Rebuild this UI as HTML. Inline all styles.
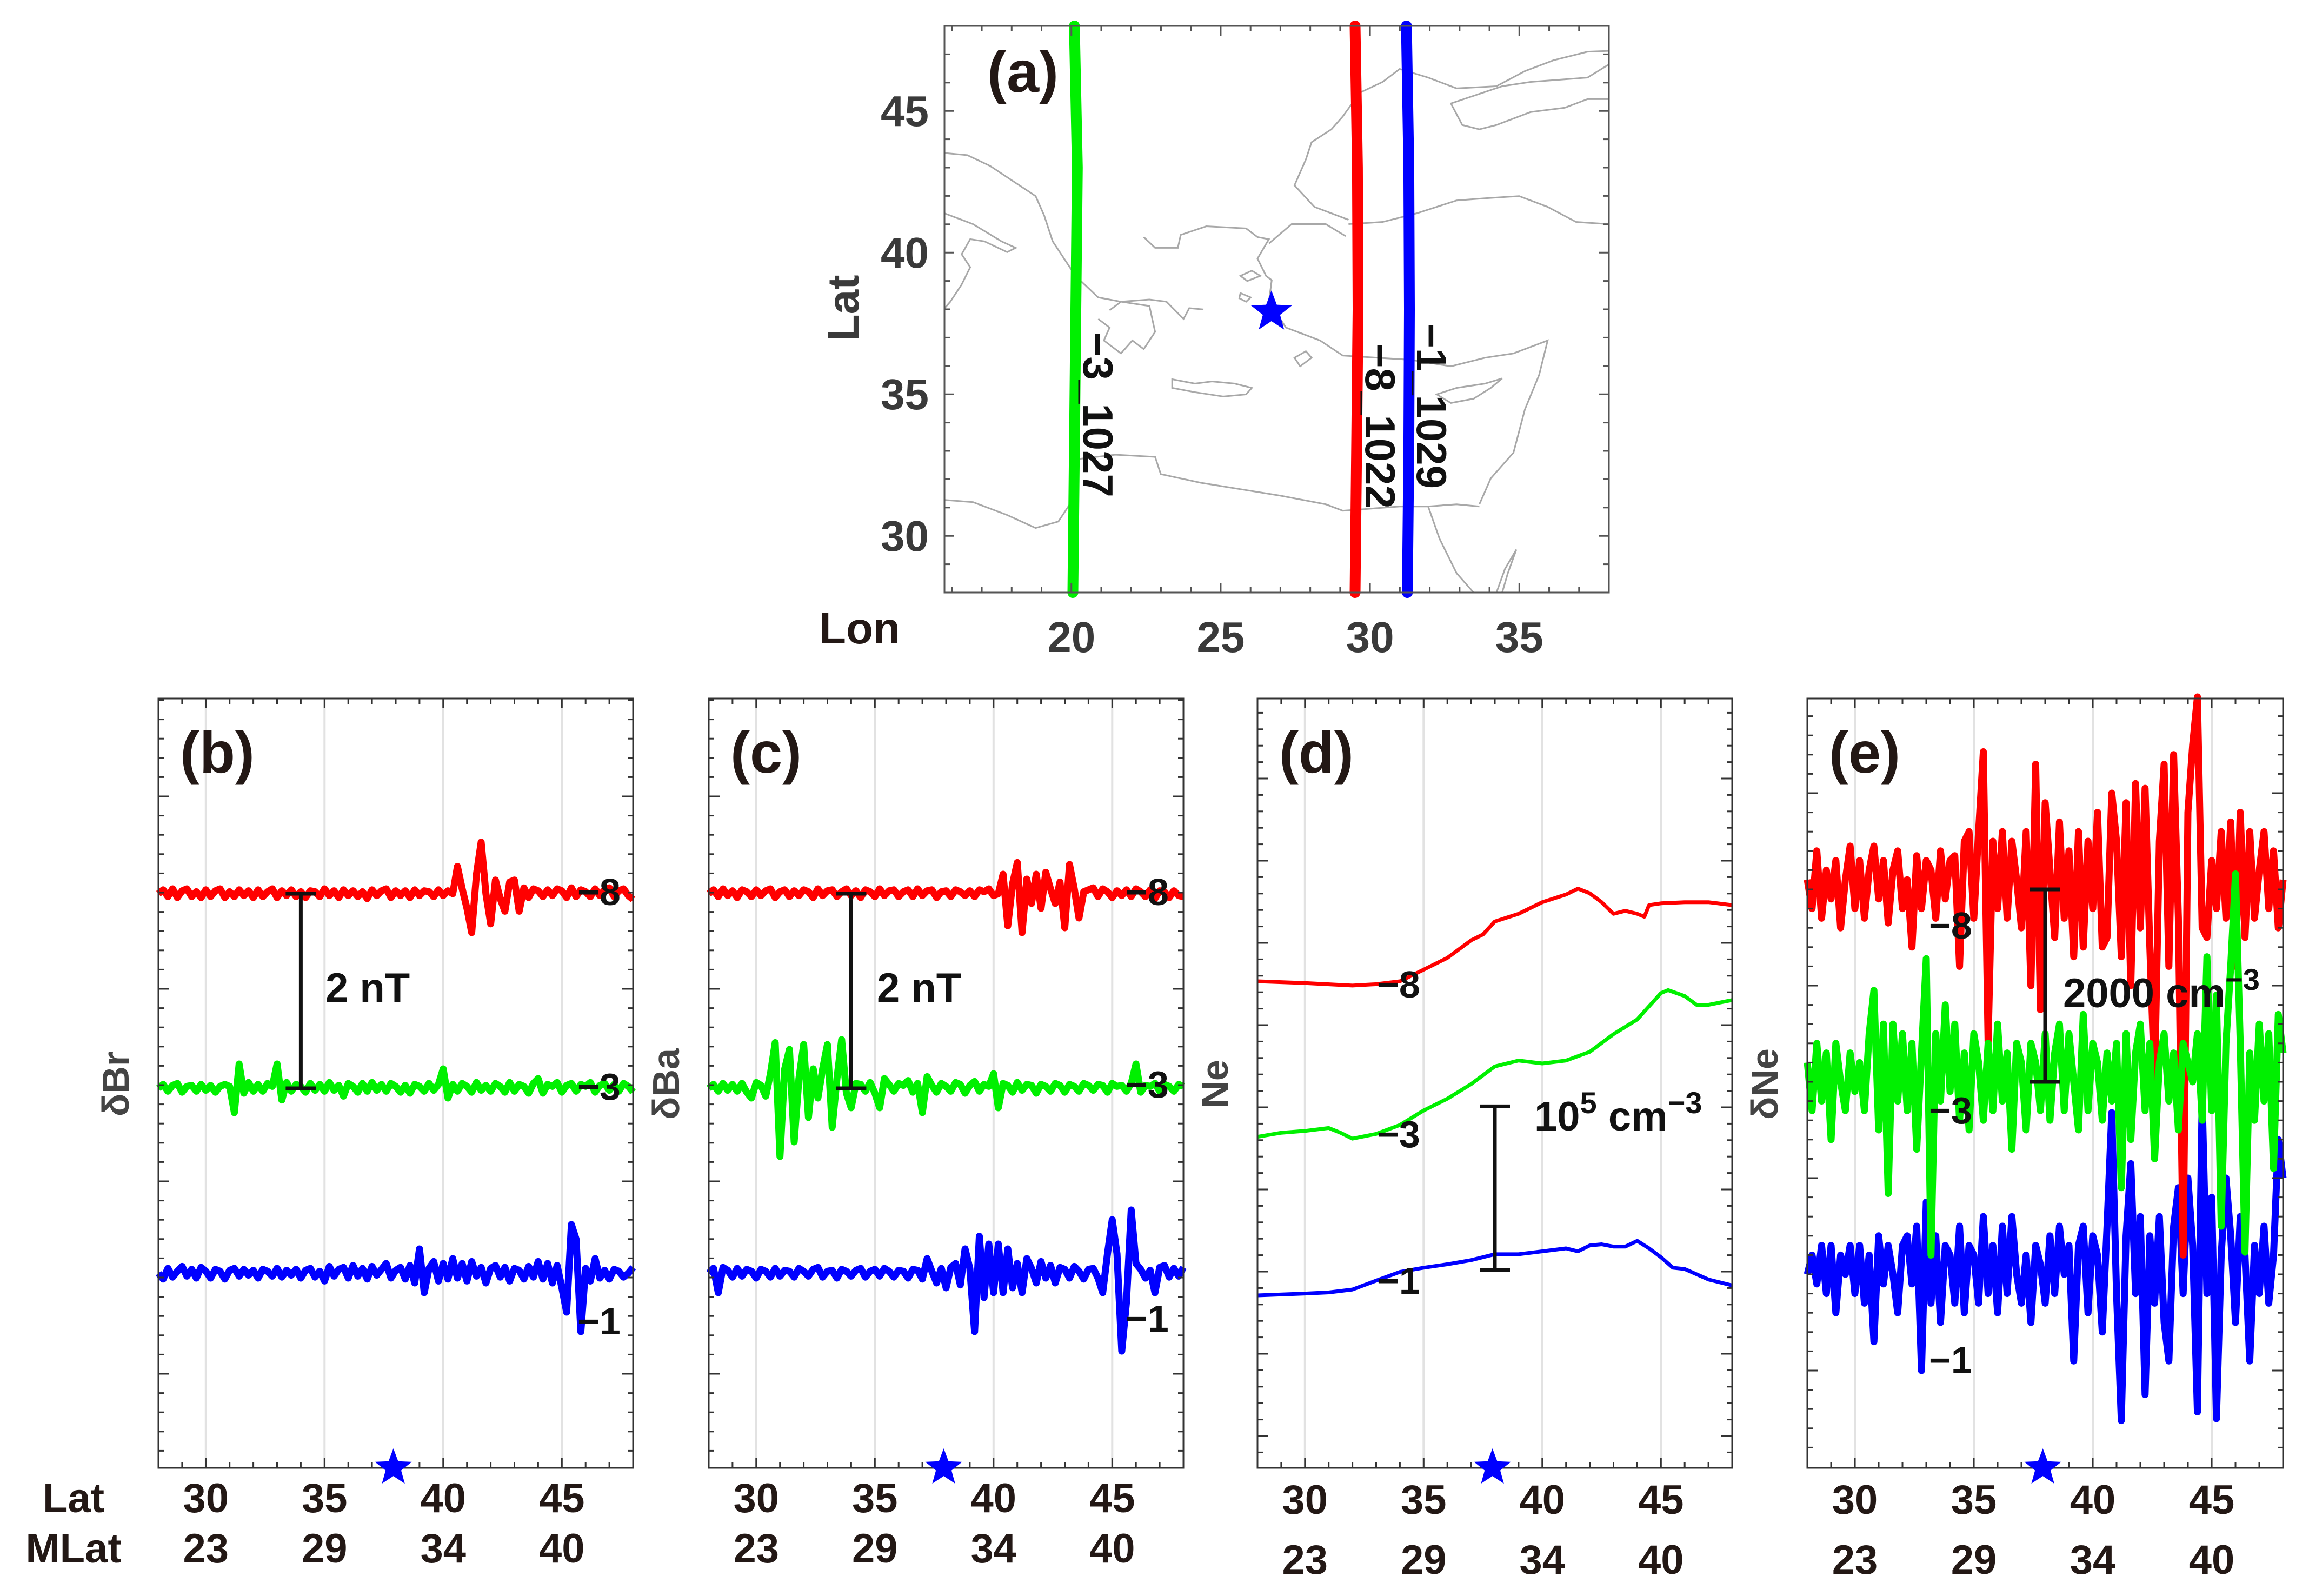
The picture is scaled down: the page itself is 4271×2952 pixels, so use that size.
<!DOCTYPE html>
<html><head><meta charset="utf-8"><title>Swarm tracks and perturbations</title>
<style>
html,body{margin:0;padding:0;background:#fff;}
svg{display:block;font-family:"Liberation Sans",Arial,sans-serif;font-weight:bold;}
</style></head>
<body>
<svg id="fig" width="4271" height="2952" viewBox="0 0 4271 2952" xmlns="http://www.w3.org/2000/svg">
<rect x="0" y="0" width="4271" height="2952" fill="#fff"/>
<g id="map">
 <g transform="translate(1400,0) scale(1.0523,0.7972)" fill="none" stroke="#a8a8a8" stroke-width="3" vector-effect="non-scaling-stroke">
  <polyline vector-effect="non-scaling-stroke" points="330,355 370,360 410,385 450,420 490,455 505,500 520,560 560,640 600,690 640,700 690,695 720,700 750,740 760,715 785,718"/>
  <polyline vector-effect="non-scaling-stroke" points="330,495 380,520 430,560 455,575 440,585 400,560 375,555 360,590 375,620 360,660 340,700 330,715"/>
  <polyline vector-effect="non-scaling-stroke" points="620,720 640,700 690,710 700,770 680,810 660,790 640,820 610,790 620,760 600,740"/>
  <polyline vector-effect="non-scaling-stroke" points="680,550 700,575 740,575 745,545 790,525 860,530 880,550 900,555 880,600 895,640 905,650 900,700 930,760 960,775 990,790 1030,825 1090,830 1150,835 1220,850 1280,830 1330,820 1390,790 1375,870 1350,950 1330,1050 1290,1110 1270,1170"/>
  <polyline vector-effect="non-scaling-stroke" points="900,565 940,520 1000,520 1035,548"/>
  <polyline vector-effect="non-scaling-stroke" points="1040,520 1100,515 1160,495 1230,465 1280,460 1340,455 1390,480 1440,515 1497,520"/>
  <polyline vector-effect="non-scaling-stroke" points="1040,510 980,480 945,430 965,370 975,330 1010,300 1030,270 1060,215 1100,190 1130,160 1180,180 1230,205 1300,200 1350,165 1400,140 1460,120 1497,118"/>
  <polyline vector-effect="non-scaling-stroke" points="1497,150 1460,180 1360,190 1310,200 1220,240 1240,290 1270,300 1300,290 1360,260 1420,250 1460,230 1497,230"/>
  <polygon vector-effect="non-scaling-stroke" points="730,880 770,890 800,885 840,890 870,900 860,915 820,920 770,910 730,900"/>
  <polygon vector-effect="non-scaling-stroke" points="1195,915 1230,900 1280,890 1310,878 1290,900 1260,925 1220,935"/>
  <polygon vector-effect="non-scaling-stroke" points="850,640 870,628 885,640 862,652"/>
  <polygon vector-effect="non-scaling-stroke" points="850,680 868,690 860,700 848,692"/>
  <polygon vector-effect="non-scaling-stroke" points="945,830 965,815 975,830 955,850"/>
  <polyline vector-effect="non-scaling-stroke" points="330,1160 380,1165 440,1195 490,1225 530,1210 560,1150 565,1065 630,1055 700,1060 710,1100 780,1120 850,1135 920,1150 1000,1170 1030,1185 1080,1180 1130,1175 1180,1175 1230,1170 1270,1175"/>
  <polyline vector-effect="non-scaling-stroke" points="1180,1175 1200,1250 1230,1330 1260,1375"/>
  <polyline vector-effect="non-scaling-stroke" points="1300,1375 1315,1320 1335,1275 1320,1330 1310,1375"/>
 </g>
</g>
<g id="panels"></g>
</svg>
<script>
// ---------- Map data (panel a) ----------
const trackLats = [28, 33, 38, 43, 48];
const trackGreenLon = [20.05, 20.1, 20.15, 20.2, 20.1];
const trackRedLon = [29.5, 29.55, 29.6, 29.58, 29.5];
const trackBlueLon = [31.25, 31.3, 31.32, 31.3, 31.22];
const trackNames = ['-3_1027', '-8_1022', '-1_1029'];
const trackLabelStartLat = [37.2, 36.8, 37.5];
const epicenterLon = 26.7, epicenterLat = 37.9;
const mapLatTicks = [30, 35, 40, 45];
const mapLonTicks = [20, 25, 30, 35];

// ---------- Bottom panels data ----------
const latTicks = [30, 35, 40, 45];
const mlatTicks = [23, 29, 34, 40];
const sampleStartLat = 28, sampleStepLat = 0.2;
const seriesOffsetsB = [5.9, 3.9, 2.0];
const seriesOffsetsE = [6.0, 4.0, 2.0];
const orbitLabels = ['\u22128', '\u22123', '\u22121'];

const dBrRed = [0,0.04,-0.03,0.05,-0.04,0.03,0.05,-0.03,0.02,-0.04,0.04,
 -0.03,0.03,0.05,-0.04,0.02,-0.03,0.04,-0.02,0.03,-0.04,
 0.04,-0.03,0.02,0.05,-0.04,0.03,-0.02,0.04,-0.03,0.02,
 -0.04,0.03,0.02,-0.03,0.05,-0.02,0.03,-0.04,0.04,-0.02,
 0.03,-0.03,0.02,-0.05,0.04,-0.02,0.03,0.05,-0.04,0.03,
 -0.02,0.03,-0.04,0.04,-0.02,0.03,0.02,-0.03,0.04,-0.02,
 0.03,0.0,0.28,0.05,-0.15,-0.4,0.2,0.53,0.0,-0.31,
 0.14,-0.05,-0.18,0.12,0.14,-0.18,0.06,-0.04,0.05,0.03,
 -0.03,0.04,-0.02,0.05,0.03,-0.04,0.06,-0.03,0.04,0.02,
 -0.03,0.05,-0.02,0.04,0.06,-0.03,0.03,0.05,-0.02,-0.06];
const dBrGreen = [0,0.04,-0.03,0.03,0.05,-0.04,0.02,0.03,-0.03,0.04,-0.02,
 0.03,-0.04,0.02,0.04,0.02,-0.25,0.25,-0.05,0.06,-0.03,
 0.04,-0.03,0.05,0.02,0.25,-0.12,0.06,-0.03,0.04,0.02,
 -0.04,0.05,-0.02,0.04,-0.03,0.06,-0.02,0.03,-0.08,0.05,
 0.02,-0.04,0.05,-0.03,0.06,-0.02,0.04,-0.03,0.05,0.02,
 -0.04,0.03,-0.05,0.04,0.02,-0.03,0.05,-0.02,0.04,0.2,
 -0.1,0.04,-0.03,0.05,0.02,-0.04,0.06,-0.02,0.03,-0.03,
 0.05,0.02,-0.04,0.06,-0.03,0.04,0.02,-0.05,0.05,0.1,
 -0.05,0.04,0.02,0.06,-0.04,0.03,0.05,-0.03,0.04,0.02,
 0.06,-0.04,0.03,0.05,-0.02,0.04,-0.03,0.05,0.02,-0.04];
const dBrBlue = [0,-0.06,0.05,-0.04,0.02,0.07,-0.03,0.04,-0.05,0.06,0.02,
 -0.05,0.04,0.02,-0.06,0.03,0.05,-0.03,0.04,-0.02,0.03,
 -0.05,0.04,0.02,-0.03,0.05,-0.04,0.03,-0.02,0.04,-0.05,
 0.03,0.05,-0.04,0.02,-0.08,0.07,-0.03,0.04,0.06,-0.05,
 0.08,-0.03,0.05,-0.06,0.07,-0.02,0.04,0.1,-0.05,0.03,
 0.06,-0.06,0.08,-0.1,0.25,-0.2,0.05,0.12,-0.08,0.1,
 -0.06,0.15,-0.05,0.1,-0.08,0.12,-0.03,0.06,-0.1,0.05,
 0.08,-0.04,0.06,-0.08,0.05,0.03,-0.06,0.07,-0.04,0.12,
 -0.06,0.1,-0.1,0.08,-0.15,-0.4,0.5,0.35,-0.6,0.05,
 -0.08,0.15,-0.05,0.03,-0.06,0.04,0.02,-0.04,0.0,0.06];

const dBaRed = [0,0.04,-0.03,0.05,-0.02,0.03,-0.04,0.04,0.02,-0.03,0.04,
 -0.02,0.03,0.05,-0.04,0.02,0.04,-0.03,0.03,-0.02,0.04,
 0.02,-0.04,0.05,-0.02,0.03,0.04,-0.03,0.02,0.05,-0.02,
 0.03,-0.04,0.04,0.02,-0.03,0.05,-0.02,0.03,0.04,-0.03,
 0.02,0.04,-0.03,0.05,-0.02,0.03,0.04,-0.04,0.02,0.03,
 -0.03,0.04,0.02,-0.02,0.03,-0.03,0.04,0.02,0.05,-0.02,
 0.0,0.2,-0.33,0.1,0.32,-0.4,0.15,-0.1,0.2,-0.15,
 0.22,0.05,-0.1,0.12,-0.35,0.3,0.05,-0.25,0.02,0.04,
 0.06,-0.03,0.05,0.02,-0.04,0.03,-0.02,0.04,-0.03,0.05,
 0.02,-0.03,0.04,-0.05,0.03,0.02,-0.04,0.03,-0.02,-0.03];
const dBaGreen = [0,0.04,-0.03,0.05,-0.02,0.04,-0.03,0.05,-0.04,-0.1,0.06,
 0.03,-0.08,0.15,0.47,-0.7,0.2,0.4,-0.55,0.1,0.45,
 -0.3,0.2,-0.1,0.2,0.45,-0.4,0.1,0.5,-0.05,-0.2,
 0.05,0.04,-0.03,0.06,-0.05,-0.2,0.1,0.04,-0.03,0.05,
 0.03,0.08,-0.04,0.05,-0.25,0.12,0.03,-0.04,0.05,0.02,
 -0.03,0.06,0.04,-0.05,0.03,0.07,-0.03,0.04,0.02,0.15,
 -0.2,0.05,0.03,-0.04,0.06,-0.02,0.04,0.03,-0.05,0.04,
 0.02,-0.03,0.05,0.03,-0.04,0.04,0.02,-0.03,0.05,0.03,
 -0.02,0.04,0.03,-0.04,0.05,0.02,0.03,-0.03,0.05,0.25,
 -0.04,0.03,0.02,0.05,-0.03,0.04,0.02,-0.03,0.04,0.02];
const dBaBlue = [0,0.05,-0.2,0.06,0.03,-0.04,0.05,-0.03,0.04,0.02,-0.05,
 0.04,0.02,-0.04,0.05,-0.03,0.03,0.02,-0.04,0.05,0.02,
 -0.03,0.04,0.06,-0.04,0.02,0.03,-0.05,0.04,0.02,-0.03,
 0.03,0.05,-0.04,0.02,0.04,-0.03,0.05,0.02,-0.04,0.03,
 0.02,-0.05,0.04,0.03,-0.06,0.15,0.02,-0.1,0.05,-0.15,
 0.06,0.1,-0.12,0.25,0.05,-0.6,0.38,-0.25,0.3,-0.2,
 0.3,-0.2,0.25,-0.15,0.1,-0.2,0.15,0.05,-0.1,0.12,
 -0.05,0.08,-0.1,0.06,0.04,-0.05,0.07,0.02,-0.06,0.04,
 0.05,-0.05,-0.2,0.2,0.55,0.2,-0.8,-0.3,0.65,0.1,
 0.04,-0.05,0.03,-0.2,0.06,0.08,-0.04,0.05,-0.03,0.06];

// Ne (10^3 cm^-3, including display offsets), sampled at irregular latitudes
const neRedLat = [28,30,32,33,34,35,36,37,37.5,38,39,40,41,41.5,42,42.5,43,43.5,44,44.3,44.5,45,46,47,48];
const neRed = [296.8,295.7,294.2,295.0,296.8,303.9,311.1,321.8,325.4,333.3,338.0,345.1,349.8,353.4,350.5,345.1,338.0,339.8,338.0,336.2,343.3,344.4,345.1,345.1,343.3];
const neGreenLat = [28,29,30,31,31.5,32,33,34,35,36,37,38,39,40,41,42,43,44,45,45.3,46,46.5,47,48];
const neGreen = [201.8,204.3,205.4,207.2,204.3,200.7,203.6,209.0,217.9,225.1,234.0,244.8,248.4,246.6,248.4,253.7,264.5,273.5,289.6,291.4,287.8,282.4,282.4,285.3];
const neBlueLat = [28,30,31,32,33,34,35,36,37,38,39,40,41,41.5,42,42.5,43,43.5,44,44.5,45,45.5,46,47,48];
const neBlue = [105.0,106.1,106.8,108.6,114.0,119.3,121.9,124.0,126.5,130.1,130.1,131.9,133.7,131.9,135.5,136.2,134.8,134.8,138.3,133.7,128.3,121.9,121.1,114.7,111.1];
const neBarLow = 120.4, neBarHigh = 220.4;

// dNe (10^3 cm^-3)
const dNeRed = [0.1,-0.2,0.4,-0.3,0.2,-0.1,0.3,-0.4,0.1,0.45,-0.2,
 0.3,-0.3,0.2,0.45,-0.1,0.3,-0.35,0.2,0.4,-0.2,
 0.1,-0.6,0.35,-0.2,0.3,0.2,-0.3,0.4,-0.1,0.3,
 0.35,-0.8,0.5,0.6,-0.3,0.6,1.43,-1.59,0.5,-0.2,
 0.6,-0.3,0.5,0.1,-0.4,0.6,-1.0,1.3,-1.25,0.9,
 0.2,-0.5,0.7,-0.3,0.4,-0.7,0.6,-0.6,0.5,-0.2,
 0.8,-0.6,-0.5,1.0,0.5,-0.7,0.9,-1.0,1.1,-0.4,
 1.05,-0.6,-2.0,0.5,1.3,-0.8,1.4,-0.3,-3.8,0.8,
 1.5,2.0,-0.4,-0.5,0.3,-0.2,0.6,-0.3,0.7,-0.8,
 0.8,-0.5,0.6,-0.3,0.2,0.6,-0.2,0.4,-0.4,0.1];
const dNeGreen = [0.2,-0.3,0.4,-0.2,0.3,-0.6,0.4,0.0,-0.3,0.3,-0.1,
 0.2,-0.3,0.5,0.95,-0.5,0.6,-1.16,0.6,-0.2,0.5,
 -0.3,0.4,-0.7,0.3,1.28,-1.8,0.5,-0.2,0.8,-0.1,
 0.6,-0.4,0.3,-0.5,0.5,0.2,-0.4,0.4,-0.3,0.6,
 -0.2,0.3,-0.7,0.4,0.2,-0.5,0.4,0.2,-0.3,0.5,
 -0.4,0.3,0.6,-0.3,0.5,0.0,-0.5,0.7,-0.3,0.4,
 0.2,-0.4,0.3,-0.2,0.4,-1.1,0.5,-0.6,0.3,0.6,
 -0.3,0.4,-0.8,0.2,0.5,-0.2,0.3,-0.5,0.4,0.2,
 0.0,0.5,-0.4,1.3,-0.3,0.9,-1.5,0.4,1.2,2.16,
 0.4,-1.77,0.3,-0.4,0.6,-0.2,0.5,-0.9,0.7,0.3];
const dNeBlue = [0.0,0.2,-0.1,0.3,-0.2,0.3,-0.4,0.2,0.0,0.3,-0.2,
 0.3,-0.3,0.2,-0.7,0.4,-0.1,0.3,0.0,-0.4,0.3,
 0.4,-0.1,0.5,-1.0,0.75,-0.3,0.4,-0.5,0.3,0.2,
 -0.3,0.5,-0.4,0.3,0.2,-0.3,0.6,-0.2,0.3,-0.4,
 0.5,-0.2,0.6,0.0,-0.3,0.2,-0.5,0.3,0.1,-0.3,
 0.4,-0.2,0.5,0.0,0.3,-0.9,0.3,0.5,-0.4,0.4,
 0.2,-0.6,0.5,1.68,-0.2,-1.52,0.4,1.15,-0.2,0.6,
 -1.25,0.4,-0.3,0.6,-0.5,-0.9,0.5,0.9,-0.2,1.0,
 0.3,-1.43,1.83,-0.2,0.8,-1.5,0.2,1.0,0.4,-0.5,
 0.6,0.2,-0.9,0.3,-0.2,0.5,-0.3,0.2,1.4,1.0];

const NS = 'http://www.w3.org/2000/svg';
const svg = document.getElementById('fig');
const mapG = document.getElementById('map');
const panelsG = document.getElementById('panels');
const RED = '#ff0000', GREEN = '#00f000', BLUE = '#0000ff';

function mk(parent, tag, attrs) {
  const el = document.createElementNS(NS, tag);
  for (const k in attrs) el.setAttribute(k, attrs[k]);
  parent.appendChild(el);
  return el;
}
function starPts(cx, cy, r) {
  const p = [];
  for (let i = 0; i < 10; i++) {
    const a = -Math.PI / 2 + i * Math.PI / 5;
    const rr = i % 2 ? r * 0.42 : r;
    p.push((cx + rr * Math.cos(a)).toFixed(1) + ',' + (cy + rr * Math.sin(a)).toFixed(1));
  }
  return p.join(' ');
}

// ---------------- Map ----------------
const M = {x0: 1747, x1: 2976, y0: 48, y1: 1096, lon0: 15.75, lon1: 38, lat0: 28, lat1: 48};
const mx = lon => M.x0 + (lon - M.lon0) / (M.lon1 - M.lon0) * (M.x1 - M.x0);
const my = lat => M.y1 - (lat - M.lat0) / (M.lat1 - M.lat0) * (M.y1 - M.y0);

const tracks = [[trackGreenLon, GREEN], [trackRedLon, RED], [trackBlueLon, BLUE]];
tracks.forEach((t, i) => {
  const pts = trackLats.map((la, j) => mx(t[0][j]).toFixed(1) + ',' + my(la).toFixed(1)).join(' ');
  const pl = mk(mapG, 'polyline', {points: pts, fill: 'none', stroke: t[1], 'stroke-width': 20, 'stroke-linecap': 'round'});
  
  
});
const trackLabelOrder = [0, 1, 2];
trackLabelOrder.forEach(i => {
  const lonArr = tracks[i][0];
  const x = mx(lonArr[2]) + 14;
  const y = my(trackLabelStartLat[i]);
  const t = mk(mapG, 'text', {x: 0, y: 0, 'font-size': 78, fill: '#111', transform: `translate(${x.toFixed(1)},${y.toFixed(1)}) rotate(90)`});
  t.textContent = trackNames[i].replace('-', '\u2212');
  
  
});
const mstar = mk(mapG, 'polygon', {points: starPts(mx(epicenterLon), my(epicenterLat), 40), fill: BLUE});


const mframe = mk(mapG, 'rect', {x: M.x0, y: M.y0, width: M.x1 - M.x0, height: M.y1 - M.y0, fill: 'none', stroke: '#555', 'stroke-width': 3});


for (let la = 29; la <= 47; la++) {
  const y = my(la), L = la % 5 === 0 ? 18 : 10;
  mk(mapG, 'line', {x1: M.x0, x2: M.x0 + L, y1: y, y2: y, stroke: '#555', 'stroke-width': 3});
  mk(mapG, 'line', {x1: M.x1, x2: M.x1 - L, y1: y, y2: y, stroke: '#555', 'stroke-width': 3});
}
for (let lo = 16; lo <= 37; lo++) {
  const x = mx(lo), L = lo % 5 === 0 ? 18 : 10;
  mk(mapG, 'line', {x1: x, x2: x, y1: M.y1, y2: M.y1 - L, stroke: '#555', 'stroke-width': 3});
  mk(mapG, 'line', {x1: x, x2: x, y1: M.y0, y2: M.y0 + L, stroke: '#555', 'stroke-width': 3});
}
mapLatTicks.forEach(v => {
  const t = mk(mapG, 'text', {x: 1718, y: my(v) + 28, 'font-size': 80, fill: '#3a3a3a', 'text-anchor': 'end'});
  t.textContent = v;
  
  
});
mapLonTicks.forEach(v => {
  const t = mk(mapG, 'text', {x: mx(v), y: 1206, 'font-size': 80, fill: '#3a3a3a', 'text-anchor': 'middle'});
  t.textContent = v;
  
  
});
const latLbl = mk(mapG, 'text', {x: 0, y: 0, 'font-size': 82, fill: '#3a3a3a', 'text-anchor': 'middle', transform: 'translate(1588,570) rotate(-90)'});
latLbl.textContent = 'Lat';


const lonLbl = mk(mapG, 'text', {x: 1590, y: 1190, 'font-size': 82, fill: '#231815', 'text-anchor': 'middle'});
lonLbl.textContent = 'Lon';


const aLbl = mk(mapG, 'text', {x: 1826, y: 170, 'font-size': 108, fill: '#231815'});
aLbl.textContent = '(a)';



// ---------------- Bottom panels ----------------
const Y0 = 1292, Y1 = 2715;
const yB = v => 2715 - v * 180;
const yE = v => 2713 - v * 178;
const yD = v => 2714 - v * 3.029;

const panels = [
  {id: 'b', x0: 293, x1: 1171, ylab: '\u03b4Br', major: 356, majorStart: 1473, minorDiv: 10, latY: 2797, mlatY: 2890, labX: 1068, labY: [1674, 2034, 2468]},
  {id: 'c', x0: 1311, x1: 2189, ylab: '\u03b4Ba', major: 356, majorStart: 1473, minorDiv: 10, latY: 2797, mlatY: 2890, labX: 2082, labY: [1674, 2030, 2463]},
  {id: 'd', x0: 2326, x1: 3204, ylab: 'Ne', major: 152, majorStart: 1440, minorDiv: 5, latY: 2800, mlatY: 2911, labX: 2547, labY: [1845, 2122, 2393]},
  {id: 'e', x0: 3343, x1: 4223, ylab: '\u03b4Ne', major: 356, majorStart: 1467, minorDiv: 10, latY: 2800, mlatY: 2911, labX: 3568, labY: [1736, 2078, 2540]}
];
const px = (p, lat) => p.x0 + (lat - 28) / 20 * (p.x1 - p.x0);

function uniformSeries(p, vals, off, yf) {
  return vals.map((v, i) => px(p, sampleStartLat + i * sampleStepLat).toFixed(1) + ',' + yf(v + off).toFixed(1)).join(' ');
}
function irregularSeries(p, lats, vals, yf) {
  return lats.map((la, i) => px(p, la).toFixed(1) + ',' + yf(vals[i]).toFixed(1)).join(' ');
}

panels.forEach(p => {
  const g = mk(panelsG, 'g', {});
  
  
  latTicks.forEach(v => {
    mk(g, 'line', {x1: px(p, v), x2: px(p, v), y1: Y0, y2: Y1, stroke: '#e2e2e2', 'stroke-width': 4});
  });
  let series = [];
  if (p.id === 'b') series = [[dBrRed, RED, seriesOffsetsB[0]], [dBrGreen, GREEN, seriesOffsetsB[1]], [dBrBlue, BLUE, seriesOffsetsB[2]]];
  if (p.id === 'c') series = [[dBaRed, RED, seriesOffsetsB[0]], [dBaGreen, GREEN, seriesOffsetsB[1]], [dBaBlue, BLUE, seriesOffsetsB[2]]];
  if (p.id === 'b' || p.id === 'c') {
    series.forEach((s, i) => {
      const pl = mk(g, 'polyline', {points: uniformSeries(p, s[0], s[2], yB), fill: 'none', stroke: s[1], 'stroke-width': 13, 'stroke-linejoin': 'round'});
      
      
    });
  }
  if (p.id === 'd') {
    [[neRedLat, neRed, RED], [neGreenLat, neGreen, GREEN], [neBlueLat, neBlue, BLUE]].forEach((s, i) => {
      const pl = mk(g, 'polyline', {points: irregularSeries(p, s[0], s[1], yD), fill: 'none', stroke: s[2], 'stroke-width': 7, 'stroke-linejoin': 'round'});
      
      
    });
  }
  if (p.id === 'e') {
    [[dNeBlue, BLUE, seriesOffsetsE[2]], [dNeRed, RED, seriesOffsetsE[0]], [dNeGreen, GREEN, seriesOffsetsE[1]]].forEach(s => {
      const pl = mk(g, 'polyline', {points: uniformSeries(p, s[0], s[2], yE), fill: 'none', stroke: s[1], 'stroke-width': 13, 'stroke-linejoin': 'round'});
      
      
    });
  }
  const fr = mk(g, 'rect', {x: p.x0, y: Y0, width: p.x1 - p.x0, height: Y1 - Y0, fill: 'none', stroke: '#333', 'stroke-width': 3});
  
  
  const minor = p.major / p.minorDiv;
  for (let k = -p.minorDiv * 2; k <= p.minorDiv * 10; k++) {
    const y = p.majorStart + k * minor;
    if (y <= Y0 + 2 || y >= Y1 - 2) continue;
    const L = (k % p.minorDiv === 0) ? 20 : 10;
    mk(g, 'line', {x1: p.x0, x2: p.x0 + L, y1: y, y2: y, stroke: '#333', 'stroke-width': 3});
    mk(g, 'line', {x1: p.x1, x2: p.x1 - L, y1: y, y2: y, stroke: '#333', 'stroke-width': 3});
  }
  for (let la = 29; la <= 47; la++) {
    const x = px(p, la), L = la % 5 === 0 ? 18 : 10;
    mk(g, 'line', {x1: x, x2: x, y1: Y1, y2: Y1 - L, stroke: '#333', 'stroke-width': 3});
    mk(g, 'line', {x1: x, x2: x, y1: Y0, y2: Y0 + L, stroke: '#333', 'stroke-width': 3});
  }
  latTicks.forEach(v => {
    const t = mk(g, 'text', {x: px(p, v), y: p.latY, 'font-size': 76, fill: '#231815', 'text-anchor': 'middle'});
    t.textContent = v;
    
    
  });
  mlatTicks.forEach((v, i) => {
    const t = mk(g, 'text', {x: px(p, latTicks[i]), y: p.mlatY, 'font-size': 76, fill: '#231815', 'text-anchor': 'middle'});
    t.textContent = v;
    
    
  });
  const yl = mk(g, 'text', {x: 0, y: 0, 'font-size': 70, fill: '#444', 'text-anchor': 'middle', transform: `translate(${p.x0 - 55},2005) rotate(-90)`});
  yl.textContent = p.ylab;
  
  
  const pl = mk(g, 'text', {x: p.x0 + 40, y: 1429, 'font-size': 108, fill: '#231815'});
  pl.textContent = '(' + p.id + ')';
  
  
  orbitLabels.forEach((s, i) => {
    const t = mk(g, 'text', {x: p.labX, y: p.labY[i], 'font-size': 70, fill: '#111'});
    t.textContent = s;
    
    
  });
  const st = mk(g, 'polygon', {points: starPts(px(p, epicenterLat), Y1, 36), fill: BLUE});
  
  
});

function scaleBar(name, x, ya, yb) {
  const g = mk(panelsG, 'g', {stroke: '#111', 'stroke-width': 7});
  
  
  mk(g, 'line', {x1: x, x2: x, y1: ya, y2: yb});
  mk(g, 'line', {x1: x - 28, x2: x + 28, y1: ya, y2: ya});
  mk(g, 'line', {x1: x - 28, x2: x + 28, y1: yb, y2: yb});
}
scaleBar('scale-bar-b', px(panels[0], 34), yB(seriesOffsetsB[0]), yB(seriesOffsetsB[1]));
scaleBar('scale-bar-c', px(panels[1], 34), yB(seriesOffsetsB[0]), yB(seriesOffsetsB[1]));
scaleBar('scale-bar-d', px(panels[2], 38), yD(neBarHigh), yD(neBarLow));
scaleBar('scale-bar-e', px(panels[3], 38), yE(seriesOffsetsE[0]), yE(seriesOffsetsE[1]));

function scaleText(name, x, y, html) {
  const t = mk(panelsG, 'text', {x: x, y: y, 'font-size': 76, fill: '#111'});
  t.innerHTML = html;
  
  
}
scaleText('scale-label-b', 602, 1853, '2 nT');
scaleText('scale-label-c', 1622, 1853, '2 nT');
scaleText('scale-label-d', 2838, 2091, '10<tspan dy="-32" font-size="56">5</tspan><tspan dy="32"> cm</tspan><tspan dy="-32" font-size="56">\u22123</tspan>');
scaleText('scale-label-e', 3816, 1863, '2000 cm<tspan dy="-32" font-size="56">\u22123</tspan>');

const latName = mk(panelsG, 'text', {x: 136, y: 2797, 'font-size': 76, fill: '#231815', 'text-anchor': 'middle'});
latName.textContent = 'Lat';


const mlatName = mk(panelsG, 'text', {x: 136, y: 2890, 'font-size': 76, fill: '#231815', 'text-anchor': 'middle'});
mlatName.textContent = 'MLat';


</script>
</body></html>
